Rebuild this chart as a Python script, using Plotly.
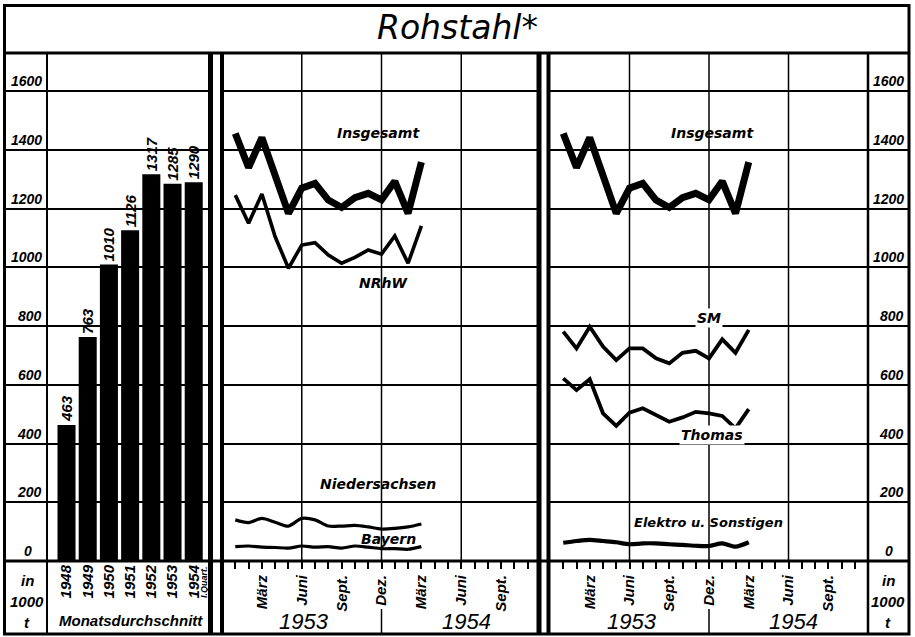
import plotly.graph_objects as go

# ---------------- data ----------------
years = ["1948", "1949", "1950", "1951", "1952", "1953", "1954"]
year_avg = [463, 763, 1010, 1126, 1317, 1285, 1290]

months = ["Jan.", "Feb.", "März", "Apr.", "Mai", "Juni", "Juli", "Aug.",
          "Sept.", "Okt.", "Nov.", "Dez.", "Jan.", "Feb.", "März"]   # 1953 - März 1954
insgesamt = [1456, 1340, 1442, 1308, 1184, 1270, 1286, 1229, 1204, 1237, 1252, 1230, 1293, 1184, 1358]
nrhw = [1246, 1150, 1250, 1104, 997, 1076, 1084, 1042, 1014, 1034, 1059, 1045, 1107, 1014, 1141]
niedersachsen = [140, 131, 145, 132, 119, 145, 140, 119, 119, 121, 116, 109, 111, 116, 126]
bayern = [49, 51, 47, 46, 44, 51, 47, 49, 44, 51, 47, 42, 42, 40, 49]
sm = [781, 724, 798, 730, 684, 724, 724, 690, 673, 709, 716, 690, 755, 709, 787]
thomas = [622, 582, 619, 503, 460, 505, 520, 497, 474, 489, 508, 503, 494, 452, 517]
elektro = [62, 68, 72, 68, 64, 57, 60, 60, 57, 55, 52, 51, 60, 49, 64]

y_ticks = [0, 200, 400, 600, 800, 1000, 1200, 1400, 1600]
month_ticks = list(range(1, 24))
month_tick_labels = {3: "März", 6: "Juni", 9: "Sept.", 12: "Dez.",
                     15: "März", 18: "Juni", 21: "Sept."}
year_labels = ["1953", "1954"]

# ---------------- geometry helpers ----------------
W, H = 915, 637
def px(x):
    return x / W
def py(y):
    return 1 - y / H

YMAX = 1730
ydom = [py(561), py(53)]
FN = "Liberation Sans, Arial, sans-serif"
FD = "DejaVu Sans, sans-serif"
def fnt(size, family=FN, bold=True):
    return dict(family=family, size=size, color="black",
                style="italic", weight="bold" if bold else "normal")

mx = list(range(1, len(months) + 1))

fig = go.Figure()

# invisible anchors for label columns
for ax in ["", "5"]:
    fig.add_trace(go.Scatter(x=[0.5], y=[0], mode="markers", marker=dict(opacity=0),
                             xaxis="x" + ax, yaxis="y" + ax, hoverinfo="skip", showlegend=False))

# bars
fig.add_trace(go.Bar(x=years, y=year_avg, xaxis="x2", yaxis="y2",
                     marker=dict(color="black", line=dict(width=0)), width=0.85,
                     text=[str(v) for v in year_avg], textposition="outside",
                     textangle=-90, textfont=fnt(15), constraintext="none",
                     cliponaxis=False, showlegend=False))

def line(y, ax, w, smooth=False):
    fig.add_trace(go.Scatter(x=mx, y=y, xaxis="x" + ax, yaxis="y" + ax, mode="lines",
                             line=dict(color="black", width=w,
                                       shape="spline" if smooth else "linear",
                                       smoothing=0.8),
                             showlegend=False, hoverinfo="skip"))

line(insgesamt, "3", 7)
line(nrhw, "3", 3.6)
line(niedersachsen, "3", 3.2, True)
line(bayern, "3", 3.2, True)
line(insgesamt, "4", 7)
line(sm, "4", 3.8)
line(thomas, "4", 3.8)
line(elektro, "4", 4.2, True)

yax = dict(range=[0, YMAX], domain=ydom, tickvals=y_ticks[1:], showgrid=True,
           gridcolor="black", gridwidth=1.5, showticklabels=False, ticks="",
           zeroline=False, showline=False, fixedrange=True)
month_ax = dict(range=[0, 24], tickvals=month_ticks,
                ticktext=[month_tick_labels.get(m, "") for m in month_ticks],
                ticks="outside", ticklen=7, tickwidth=1.5, tickcolor="black",
                tickangle=-90, tickfont=fnt(15), showgrid=False, zeroline=False,
                showline=False, fixedrange=True)

fig.update_layout(
    width=W, height=H, autosize=False,
    margin=dict(l=0, r=0, t=0, b=0),
    paper_bgcolor="white", plot_bgcolor="white",
    showlegend=False,
    xaxis=dict(domain=[px(5), px(47)], range=[0, 1], visible=False),
    yaxis=dict(anchor="x", **yax),
    xaxis2=dict(domain=[px(47), px(209)], type="category", range=[-0.92, 6.72],
                anchor="y2", tickangle=-90, tickfont=fnt(15), ticks="",
                showgrid=False, showline=False, zeroline=False, fixedrange=True),
    yaxis2=dict(anchor="x2", **yax),
    xaxis3=dict(domain=[px(222), px(541)], anchor="y3", **month_ax),
    yaxis3=dict(anchor="x3", **yax),
    xaxis4=dict(domain=[px(550), px(868)], anchor="y4", **month_ax),
    yaxis4=dict(anchor="x4", **yax),
    xaxis5=dict(domain=[px(868), px(909)], range=[0, 1], visible=False),
    yaxis5=dict(anchor="x5", **yax),
)

shapes = []
def pline(x0, y0, x1, y1, w):
    shapes.append(dict(type="line", xref="paper", yref="paper",
                       x0=px(x0), y0=py(y0), x1=px(x1), y1=py(y1),
                       line=dict(color="black", width=w)))

# outer frame and bands
shapes.append(dict(type="rect", xref="paper", yref="paper", x0=px(4.5), x1=px(909),
                   y0=py(634), y1=py(5.5), line=dict(color="black", width=3)))
pline(4.5, 53, 909, 53, 3)
pline(4.5, 561, 909, 561, 3)
pline(47, 53, 47, 634, 2)
pline(868, 53, 868, 634, 2.5)
pline(210.5, 53, 210.5, 634, 5)
pline(222, 53, 222, 634, 4)
pline(539, 53, 539, 634, 5)
pline(548.5, 53, 548.5, 634, 4)

# vertical gridlines every half year and year separators
for ax in ["3", "4"]:
    for m in [6, 12, 18]:
        shapes.append(dict(type="line", xref="x" + ax, yref="paper", x0=m, x1=m,
                           y0=ydom[0], y1=ydom[1], layer="below",
                           line=dict(color="black", width=1.5)))
    shapes.append(dict(type="line", xref="x" + ax, yref="paper", x0=12, x1=12,
                       y0=py(609), y1=py(634), line=dict(color="black", width=1.5)))

ann = []
def text(t, x, y, size, family=FN, bold=True, xanchor="center", yanchor="middle",
         xref="paper", yref="paper", angle=0, bg=None):
    d = dict(text=t, x=x, y=y, xref=xref, yref=yref, showarrow=False,
             xanchor=xanchor, yanchor=yanchor, textangle=angle,
             font=fnt(size, family, bold))
    if bg:
        d["bgcolor"] = bg
    ann.append(d)

text("Rohstahl*", px(457), py(28), 33, FD, False)

# y labels in label columns
for v in y_ticks:
    if v == 0:
        text("0", px(28), v, 14, yref="y", yanchor="bottom")
        text("0", px(889), v, 14, yref="y5", yanchor="bottom")
    else:
        text(str(v), px(44), v, 14, yref="y", xanchor="right", yanchor="bottom")
        text(str(v), px(906), v, 14, yref="y5", xanchor="right", yanchor="bottom")

for t, yy in [("in", 580), ("1000", 601), ("t", 622)]:
    text(t, px(27), py(yy), 15)
    text(t, px(888), py(yy), 15)

text("Monatsdurchschnitt", px(131), py(620), 15)
text("I.Quart.", 6.49, py(582), 9, xref="x2", angle=-90)

for ax in ["3", "4"]:
    text(year_labels[0], 6.2, py(621), 22, bold=False, xref="x" + ax)
    text(year_labels[1], 18.4, py(621), 22, bold=False, xref="x" + ax)

# series labels
text("Insgesamt", px(378), py(133), 14, FD)
text("NRhW", px(383), py(283), 14, FD)
text("Niedersachsen", px(378), py(484), 14, FD)
text("Bayern", px(388), py(539), 14, FD)
text("Insgesamt", px(712), py(133), 14, FD)
text("SM", px(709), py(318), 14, FD, bg="white")
text("Thomas", px(712), py(435), 14, FD, bg="white")
text("Elektro u. Sonstigen", px(708), py(522), 13, FD)

fig.update_layout(shapes=shapes, annotations=ann)
fig.write_html("out.html", config=dict(displayModeBar=False),
               post_script="document.body.style.margin='0';document.body.style.overflow='hidden';")
